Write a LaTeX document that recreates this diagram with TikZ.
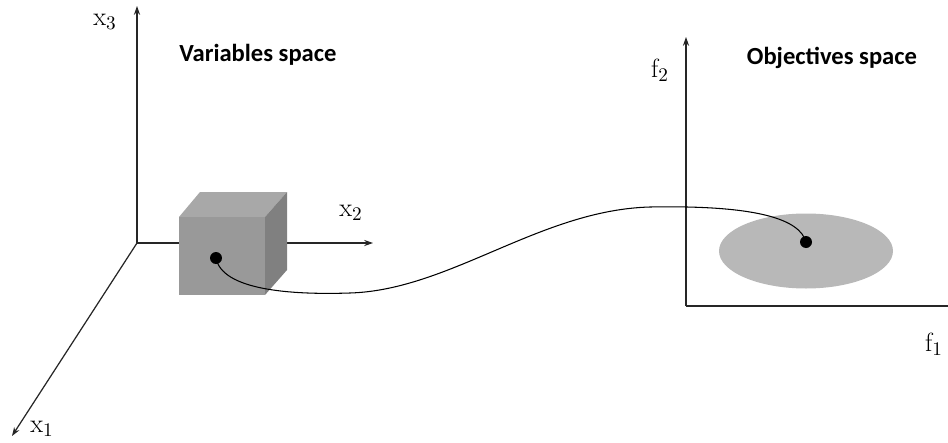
\documentclass[tikz,border=0pt]{standalone}
\usepackage{fontspec}
\newfontfamily\calibri{Carlito}
\usetikzlibrary{arrows.meta}
\begin{document}
\begin{tikzpicture}[x=0.02cm, y=-0.02cm]
			% Stili per assi, punti ed etichette
			\tikzset{asse/.style={line width=0.7pt, draw=black!85, -{Stealth[length=5pt, width=3.5pt]}},
				linea/.style={line width=0.7pt, draw=black!85},
				punto/.style={circle, fill=black, minimum size=0.24cm, inner sep=0pt},
				etichetta/.style={font=\fontsize{15}{17}\selectfont},
				titolo/.style={font=\calibri\bfseries\fontsize{14}{16}\selectfont}}
			
			\useasboundingbox (0,0) rectangle (948,443);
			
			% Assi dello spazio delle variabili
			\coordinate (O) at (137,243);
			\coordinate (X1) at (12,436);
			\coordinate (X2) at (373,243);
			\coordinate (X3) at (137,6);
			\draw[asse] (O) -- (X1);
			\draw[asse] (O) -- (X2);
			\draw[asse] (O) -- (X3);
			
			% Cubo
			\fill[black!34] (179,217) -- (200,192) -- (287,192) -- (265,217) -- cycle;
			\fill[black!50] (265,217) -- (287,192) -- (287,270) -- (265,295) -- cycle;
			\fill[black!40] (179,217) rectangle (265,295);
			
			% Assi dello spazio degli obiettivi
			\coordinate (P) at (686,306);
			\coordinate (F1) at (948,306);
			\coordinate (F2) at (686,37);
			\draw[linea] (P) -- (F1);
			\draw[asse] (P) -- (F2);
			
			% Regione delle soluzioni
			\fill[black!28] (806,251) ellipse [x radius=87, y radius=37.5];
			
			% Punti e curva di collegamento
			\node[punto] (A) at (216,258) {};
			\node[punto] (B) at (806,242) {};
			\coordinate (M1) at (350,293);
			\coordinate (M2) at (650,207);
			\draw[line width=0.6pt] (A.center) .. controls (222,290) and (290,295) .. (M1)
				.. controls (450,290) and (540,210) .. (M2)
				.. controls (760,205) and (800,220) .. (B.center);
			
			% Etichette
			\node[etichetta] (lx1) at (42,429) {$\mathrm{x}_1$};
			\node[etichetta] (lx2) at (351,213) {$\mathrm{x}_2$};
			\node[etichetta] (lx3) at (105,22) {$\mathrm{x}_3$};
			\node[etichetta] (lf1) at (934,344) {$\mathrm{f}_1$};
			\node[etichetta] (lf2) at (660,70) {$\mathrm{f}_2$};
			\node[titolo] (tv) at (258,55) {Variables space};
			\node[titolo] (to) at (832,58) {Objectives space};
		\end{tikzpicture}
\end{document}
